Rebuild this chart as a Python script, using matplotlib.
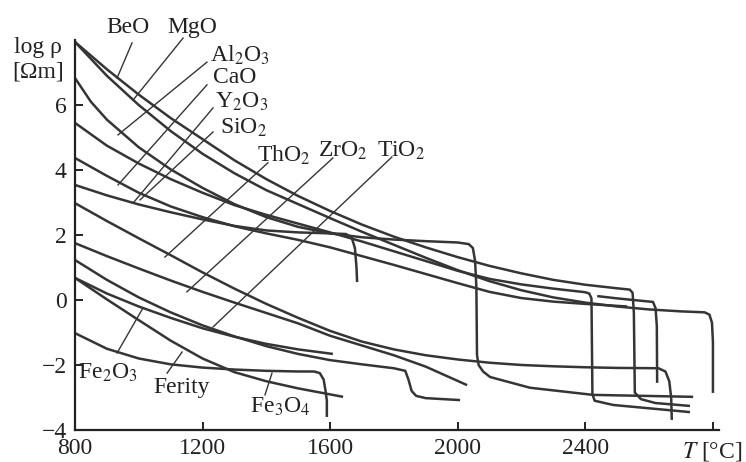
import matplotlib
matplotlib.use('Agg')
import matplotlib.pyplot as plt

plt.rcParams['font.family'] = ['Liberation Serif', 'DejaVu Serif']
plt.rcParams['mathtext.fontset'] = 'stix'

# curves: temperature [°C] and log rho [Ohm m]
beo_t = [800, 900, 1000, 1100, 1200, 1300, 1400, 1500, 1600, 1700, 1800, 1900, 2000, 2100, 2200,
         2300, 2400, 2500, 2540, 2549, 2553, 2556, 2575, 2620, 2729]
beo_v = [7.94, 7.1, 6.32, 5.6, 4.95, 4.3, 3.72, 3.2, 2.74, 2.32, 1.95, 1.62, 1.32, 1.05, 0.82,
         0.62, 0.47, 0.36, 0.32, 0.22, -0.4, -2.85, -3.05, -3.17, -3.26]

mgo_t = [800, 900, 1000, 1100, 1200, 1300, 1400, 1500, 1600, 1700, 1800, 1900, 2000, 2100, 2200,
         2300, 2400, 2500, 2600, 2700, 2775, 2790, 2798, 2801, 2801]
mgo_v = [7.94, 6.9, 6.0, 5.2, 4.5, 3.9, 3.38, 2.95, 2.52, 2.1, 1.7, 1.3, 0.92, 0.58, 0.3,
         0.08, -0.08, -0.2, -0.29, -0.35, -0.38, -0.45, -0.7, -1.3, -2.86]

al2o3_t = [800, 850, 900, 1000, 1100, 1200, 1300, 1400, 1500, 1600, 1700, 1800, 1900, 2000, 2035,
           2048, 2055, 2059, 2061, 2066, 2080, 2102, 2227, 2425, 2739]
al2o3_v = [6.83, 6.1, 5.55, 4.7, 4.02, 3.45, 2.95, 2.55, 2.25, 2.05, 1.93, 1.86, 1.81, 1.77, 1.72,
           1.6, 1.2, 0.4, -1.7, -2.0, -2.2, -2.37, -2.7, -2.92, -2.98]

cao_t = [800, 900, 1000, 1100, 1200, 1300, 1400, 1500, 1600, 1700, 1800, 1900, 2000, 2100, 2200,
         2300, 2400, 2413, 2420, 2423, 2430, 2488, 2729]
cao_v = [5.45, 4.75, 4.2, 3.72, 3.3, 2.92, 2.62, 2.35, 2.08, 1.8, 1.5, 1.2, 0.9, 0.65, 0.48,
         0.35, 0.24, 0.2, 0.05, -2.9, -3.1, -3.23, -3.45]

y2o3_t = [800, 900, 1000, 1100, 1200, 1300, 1400, 1500, 1600, 1700, 1800, 1900, 2000, 2100, 2200,
          2300, 2400, 2532]
y2o3_v = [4.37, 3.82, 3.3, 2.88, 2.55, 2.27, 2.05, 1.85, 1.62, 1.35, 1.08, 0.8, 0.52, 0.25, 0.06,
          -0.05, -0.12, -0.2]

sio2_t = [800, 900, 1000, 1100, 1200, 1300, 1400, 1500, 1600, 1650, 1668, 1678, 1683, 1685]
sio2_v = [3.54, 3.22, 2.94, 2.7, 2.48, 2.28, 2.14, 2.08, 2.05, 2.03, 1.92, 1.6, 1.0, 0.55]

tho2_t = [800, 900, 1000, 1100, 1200, 1300, 1400, 1500, 1600, 1700, 1800, 1900, 2000, 2100, 2200,
          2300, 2400, 2500, 2630, 2652, 2664, 2670, 2672]
tho2_v = [2.98, 2.43, 1.9, 1.38, 0.85, 0.35, -0.12, -0.55, -0.95, -1.28, -1.52, -1.7, -1.83, -1.93, -2.0,
          -2.04, -2.07, -2.09, -2.1, -2.2, -2.5, -3.0, -3.69]

zro2_t = [800, 900, 1000, 1100, 1200, 1300, 1400, 1500, 1600, 1700, 1800, 1900, 2030]
zro2_v = [1.75, 1.35, 0.97, 0.6, 0.25, -0.08, -0.4, -0.72, -1.1, -1.4, -1.7, -2.05, -2.62]

tio2_t = [800, 900, 1000, 1100, 1200, 1300, 1400, 1500, 1600, 1700, 1800, 1836, 1846, 1856, 1870,
          1900, 2008]
tio2_v = [1.23, 0.62, 0.08, -0.38, -0.78, -1.12, -1.42, -1.66, -1.85, -1.98, -2.1, -2.18, -2.45, -2.8, -2.95,
          -3.02, -3.08]

fe2o3_t = [800, 900, 1000, 1100, 1200, 1300, 1400, 1500, 1609]
fe2o3_v = [0.68, 0.2, -0.2, -0.55, -0.87, -1.13, -1.35, -1.52, -1.66]

ferity_t = [800, 900, 1000, 1100, 1200, 1300, 1400, 1500, 1641]
ferity_v = [0.68, 0.02, -0.62, -1.25, -1.8, -2.22, -2.5, -2.72, -2.98]

fe3o4_t = [800, 900, 1000, 1100, 1200, 1300, 1400, 1500, 1550, 1568, 1580, 1586, 1590, 1590]
fe3o4_v = [-1.02, -1.5, -1.8, -1.98, -2.08, -2.14, -2.18, -2.2, -2.2, -2.25, -2.45, -2.8, -3.1, -3.6]

extra_t = [2438, 2500, 2613, 2621, 2625, 2626]
extra_v = [0.12, 0.05, -0.06, -0.25, -0.8, -2.55]

curves = [(beo_t, beo_v), (mgo_t, mgo_v), (al2o3_t, al2o3_v), (cao_t, cao_v),
          (y2o3_t, y2o3_v), (sio2_t, sio2_v), (tho2_t, tho2_v), (zro2_t, zro2_v),
          (tio2_t, tio2_v), (fe2o3_t, fe2o3_v), (ferity_t, ferity_v),
          (fe3o4_t, fe3o4_v), (extra_t, extra_v)]

# labels: text, text anchor (left edge), leader start, leader end
labels = ['BeO', 'MgO', r'Al$_2$O$_3$', 'CaO', r'Y$_2$O$_3$', r'SiO$_2$',
          r'ThO$_2$', r'ZrO$_2$', r'TiO$_2$', r'Fe$_2$O$_3$', 'Ferity', r'Fe$_3$O$_4$']
label_t = [900, 1090, 1224, 1233, 1240, 1255, 1371, 1562, 1747, 809, 1045, 1349]
label_v = [8.4, 8.4, 7.54, 6.86, 6.09, 5.29, 4.46, 4.6, 4.6, -2.25, -2.7, -3.3]
lead_t0 = [979, 1139, 1214, 1214, 1233, 1233, 1405, 1609, 1794, 932, 1089, 1396]
lead_v0 = [7.91, 8.06, 7.32, 6.62, 5.91, 5.17, 4.22, 4.37, 4.4, -1.63, -2.25, -2.92]
lead_t1 = [932, 982, 935, 935, 982, 1004, 1082, 1151, 1233, 1013, 1136, 1418]
lead_v1 = [6.83, 6.15, 5.08, 3.54, 2.98, 3.08, 1.32, 0.25, -0.83, -0.25, -1.6, -2.25]

x_ticks = [800, 1200, 1600, 2000, 2400, 2800]
x_tick_labels = ['800', '1200', '1600', '2000', '2400', '']
y_ticks = [-4, -2, 0, 2, 4, 6]

ink = '#353535'

fig = plt.figure(figsize=(7.46, 4.62), dpi=100)
ax = fig.add_axes([0.1005, 0.0693, 0.8633, 0.8441])

for t, v in curves:
    ax.plot(t, v, color=ink, lw=1.8, solid_joinstyle='round', solid_capstyle='butt')

for i in range(len(labels)):
    ax.plot([lead_t0[i], lead_t1[i]], [lead_v0[i], lead_v1[i]], color=ink, lw=1.0, clip_on=False)
    ax.text(label_t[i], label_v[i], labels[i], fontsize=17, color='#222222',
            ha='left', va='center', clip_on=False)

ax.set_xlim(800, 2820)
ax.set_ylim(-4, 8)
ax.set_xticks(x_ticks)
ax.set_xticklabels(x_tick_labels)
ax.set_yticks(y_ticks)
ax.tick_params(direction='in', length=6, width=1.4, labelsize=17, colors='#222222', pad=6)
for side in ['top', 'right']:
    ax.spines[side].set_visible(False)
for side in ['left', 'bottom']:
    ax.spines[side].set_linewidth(1.6)
    ax.spines[side].set_color('#222222')

ax.text(-0.0575, 0.982, 'log ρ', transform=ax.transAxes, fontsize=17,
        ha='center', va='center', color='#222222')
ax.text(-0.0575, 0.918, '[Ωm]', transform=ax.transAxes, fontsize=17,
        ha='center', va='center', color='#222222')
ax.text(2800, -4.3, r'$T$ [°C]', fontsize=17, ha='center', va='top', color='#222222')

fig.savefig('out.png', dpi=100)
